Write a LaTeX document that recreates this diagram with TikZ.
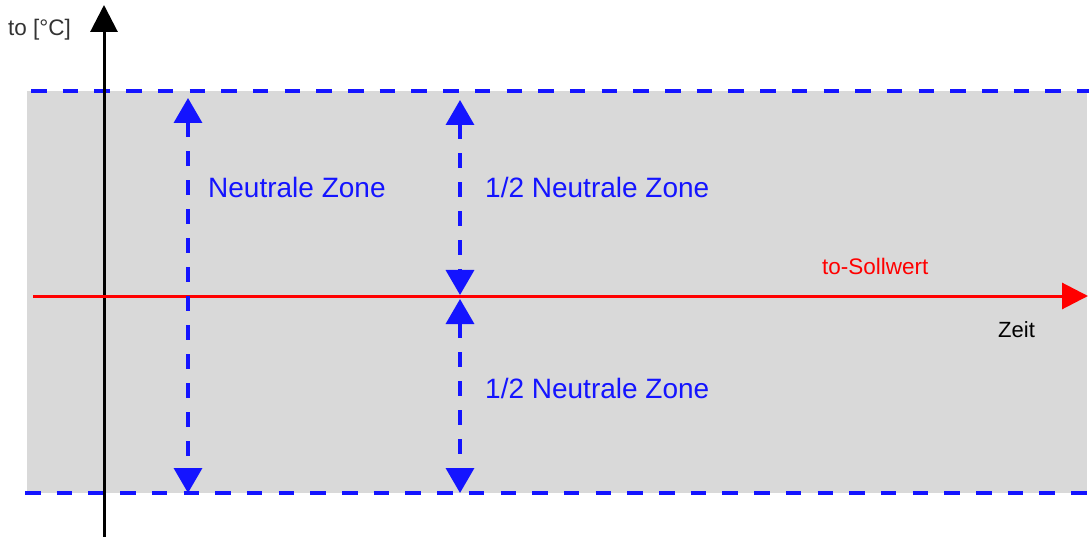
\documentclass[tikz,border=0pt]{standalone}
\usepackage{fontspec}
\setmainfont{Liberation Sans}
\usetikzlibrary{arrows.meta}
\definecolor{zonegray}{RGB}{217,217,217}
\definecolor{zoneblue}{RGB}{20,20,255}
\begin{document}
\begin{tikzpicture}[x=1pt,y=-1pt,
  bound/.style={draw=zoneblue,line width=4pt,dash pattern=on 15.5pt off 16.2pt},
  measure/.style={draw=zoneblue,line width=3.5pt,dash pattern=on 15pt off 14pt,
    {Triangle[width=28pt,length=25pt,sep=0pt]}-{Triangle[width=28pt,length=25pt]}},
  bluelabel/.style={text=zoneblue,font=\fontsize{28}{31}\selectfont,anchor=base west,inner sep=0pt},
  smalllabel/.style={font=\fontsize{22.5}{25}\selectfont,anchor=base west,inner sep=0pt}]
\useasboundingbox (0,0) rectangle (1089,537);
\fill[zonegray] (27,91) rectangle (1087,493);
% boundaries
\coordinate (tl) at (31,91);
\coordinate (tr) at (1089,91);
\coordinate (bl) at (25,493);
\coordinate (br) at (1089,493);
\draw[bound] (tl) -- (tr);
\draw[bound] (bl) -- (br);
% axes
\coordinate (ybot) at (104,537);
\coordinate (ytop) at (104,5);
\draw[line width=3pt,-{Triangle[width=27pt,length=27pt]}] (ybot) -- (ytop);
\coordinate (xl) at (33,296);
\coordinate (xr) at (1088,296);
\draw[red,line width=3pt,-{Triangle[width=26pt,length=26pt]}] (xl) -- (xr);
% measures
\coordinate (a1) at (188,98);
\coordinate (a2) at (188,493);
\draw[measure] (a1) -- (a2);
\coordinate (b1) at (460,100);
\coordinate (b2) at (460,295);
\draw[measure] (b1) -- (b2);
\coordinate (c1) at (460,299);
\coordinate (c2) at (460,493);
\draw[measure] (c1) -- (c2);
% labels
\node[smalllabel,text=black!80] (ylab) at (8,36) {to [°C]};
\node[smalllabel,text=red] (soll) at (822,275) {to-Sollwert};
\node[smalllabel,text=black,font=\fontsize{22}{25}\selectfont] (zeit) at (998,337) {Zeit};
\node[bluelabel] (nz) at (208,198) {Neutrale Zone};
\node[bluelabel] (hz1) at (485,198) {1/2 Neutrale Zone};
\node[bluelabel] (hz2) at (485,398) {1/2 Neutrale Zone};
\end{tikzpicture}
\end{document}
